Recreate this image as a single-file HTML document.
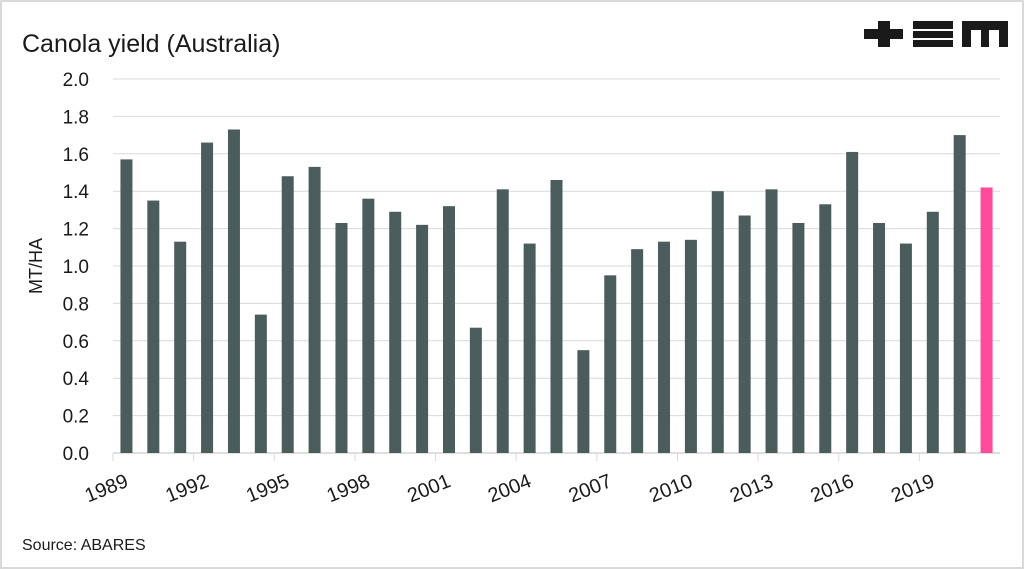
<!DOCTYPE html>
<html><head><meta charset="utf-8"><style>
body{margin:0;background:#fff;}
svg{display:block;font-family:"Liberation Sans",sans-serif;}
</style></head><body>
<svg id="chart" width="1024" height="569">
<rect x="1" y="1" width="1022" height="567" fill="#fff" stroke="#d9d9d9" stroke-width="2"/>
<text x="22" y="52" font-size="25" fill="#1a1a1a">Canola yield (Australia)</text>
<g fill="#1a1a1a">
<rect x="864" y="29" width="39" height="10"/><rect x="878" y="21" width="12" height="26"/>
<rect x="913" y="21" width="40" height="8"/><rect x="913" y="31" width="40" height="7"/><rect x="913" y="40" width="40" height="7"/>
<path d="M962 21h46v26h-9v-17h-10v17h-8v-17h-10v17h-9z"/>
</g>
<text x="22" y="550" font-size="16" fill="#1a1a1a">Source: ABARES</text>
<text transform="translate(42,266) rotate(-90)" text-anchor="middle" font-size="18" fill="#1a1a1a">MT/HA</text>
<g id="grid"></g><g id="bars"></g><g id="xaxis"></g>
</svg>
<script>
const years=[1989,1990,1991,1992,1993,1994,1995,1996,1997,1998,1999,2000,2001,2002,2003,2004,2005,2006,2007,2008,2009,2010,2011,2012,2013,2014,2015,2016,2017,2018,2019,2020,2021];
const yields=[1.57,1.35,1.13,1.66,1.73,0.74,1.48,1.53,1.23,1.36,1.29,1.22,1.32,0.67,1.41,1.12,1.46,0.55,0.95,1.09,1.13,1.14,1.40,1.27,1.41,1.23,1.33,1.61,1.23,1.12,1.29,1.70,1.42];
const yTicks=[0,0.2,0.4,0.6,0.8,1.0,1.2,1.4,1.6,1.8,2.0];
const ns="http://www.w3.org/2000/svg";
const x0=113,x1=1000,y0=453,y1=79;
const bw=(x1-x0)/years.length;
const X=i=>x0+bw*(i+0.5);
const Y=v=>y0-(v/2.0)*(y0-y1);
function mk(t,a,p){const e=document.createElementNS(ns,t);for(const k in a)e.setAttribute(k,a[k]);p.appendChild(e);return e;}
const grid=document.getElementById('grid');
yTicks.forEach(v=>{
 const l=mk('line',{x1:x0,x2:x1,y1:Y(v),y2:Y(v),stroke:v===0?'#bfbfbf':'#d9d9d9','stroke-width':1},grid);
 
 
 const t=mk('text',{x:89,y:Y(v)+7,'text-anchor':'end','font-size':19,fill:'#1a1a1a'},grid);
 t.textContent=v.toFixed(1);
 
 
});
const bars=document.getElementById('bars');
yields.forEach((v,i)=>{
 const r=mk('rect',{x:X(i)-6,y:Y(v),width:12,height:y0-Y(v),fill:i===years.length-1?'#ff4b9b':'#4a5c5c'},bars);
 
 
});
const xa=document.getElementById('xaxis');
years.forEach((yr,i)=>{
 if(i%3!==0)return;
 const tx=x0+bw*i;
 const tk=mk('line',{x1:tx,x2:tx,y1:y0,y2:y0+8,stroke:'#d9d9d9'},xa);
 
 
 const t=mk('text',{transform:`translate(${X(i)+3},${y0+33}) rotate(-22)`,'text-anchor':'end','font-size':20,fill:'#1a1a1a'},xa);
 t.textContent=yr;
 
 
});
</script>
</body></html>
